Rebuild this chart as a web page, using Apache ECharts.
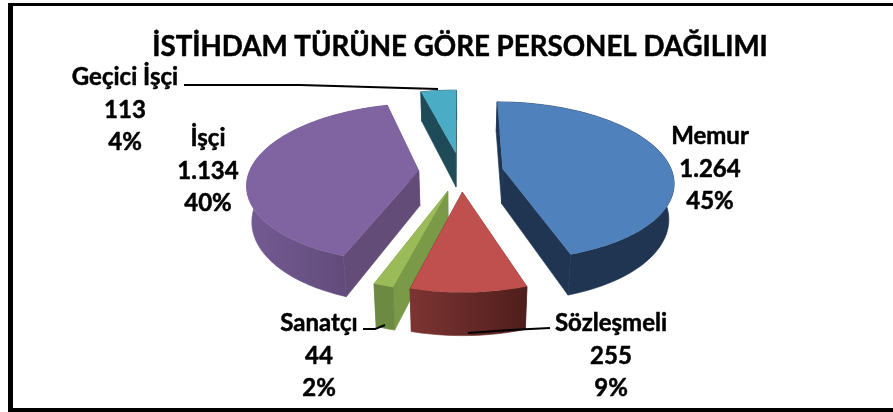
<!DOCTYPE html>
<html lang="tr">
<head>
    <meta http-equiv="Content-Type" content="text/html; charset=utf-8">
    <script type="text/javascript" src="https://cdn.jsdelivr.net/npm/echarts@6/dist/echarts.min.js"></script>
    <title>İstihdam türüne göre personel dağılımı</title>
    <style>
        html, body { margin: 0; padding: 0; background: #fff; }
        #chart { width: 893px; height: 412px; }
    </style>
</head>
<body>
<div id="chart"></div>
<script>
const titleText = 'İSTİHDAM TÜRÜNE GÖRE PERSONEL DAĞILIMI';
const names = ['Memur', 'Sözleşmeli', 'Sanatçı', 'İşçi', 'Geçici İşçi'];
const values = [1264, 255, 44, 1134, 113];
const valueTexts = ['1.264', '255', '44', '1.134', '113'];
const percentTexts = ['45%', '9%', '2%', '40%', '4%'];

const topColors = ['#4f81bd', '#c0504d', '#9bbb59', '#8064a2', '#4bacc6'];
const wallColors = ['#1f3552', '#7b3331', '#7a9a48', '#634c78', '#1f4a57'];
const outerColors = [['#1f3552', '#1f3552'], ['#7c3432', '#4f1e1c'], ['#6c8a42', '#6c8a42'], ['#735a92', '#5a4570'], ['#1f4a57', '#1f4a57']];

// label centres and leader lines, in page pixels
const labelPos = [[710, 169], [611, 356], [319, 356], [208, 171], [125, 110]];
const leaders = [null, [[468, 333], [510, 330], [550, 328]], [[363, 329], [375, 329], [385, 325]], null, [[184, 85], [300, 85], [438, 89]]];

// perspective pie, fitted to the picture
const cx = 461, cy = 171.8, rx = 169.5, ry = 78, persp = 0.153, explode = 0.25, depth = 35;

const total = values.reduce((a, b) => a + b, 0);

function project(x, y, low) {
    const f = 1 / (1 - persp * y);
    let sx = cx + rx * x * f;
    let sy = cy + ry * y * f;
    if (low) {
        sx = sx - (sx - cx) * 0.025;
        sy = sy + depth * f;
    }
    return [sx, sy];
}

function renderSlice(params, api) {
    const i = params.dataIndex;
    let before = 0;
    for (let k = 0; k < i; k++) before += values[k];
    const a0 = before / total * Math.PI * 2;
    const a1 = (before + api.value(0)) / total * Math.PI * 2;
    const mid = (a0 + a1) / 2;
    const ox = explode * Math.sin(mid), oy = -explode * Math.cos(mid);
    const order = Math.round(-Math.cos(mid) * 100);

    const arcTop = [], arcLow = [];
    const steps = Math.max(2, Math.ceil((a1 - a0) / 0.03));
    for (let s = 0; s <= steps; s++) {
        const a = a0 + (a1 - a0) * s / steps;
        arcTop.push(project(ox + Math.sin(a), oy - Math.cos(a), false));
        arcLow.push(project(ox + Math.sin(a), oy - Math.cos(a), true));
    }
    const apex = project(ox, oy, false), apexLow = project(ox, oy, true);
    const first = arcTop[0], firstLow = arcLow[0];
    const last = arcTop[steps], lastLow = arcLow[steps];

    const xs = arcLow.map(p => p[0]);
    const xMin = Math.min.apply(null, xs), xMax = Math.max.apply(null, xs);
    const outerFill = new echarts.graphic.LinearGradient(xMin, 0, xMax, 0, [
        { offset: 0, color: outerColors[i][0] },
        { offset: 1, color: outerColors[i][1] }
    ], true);

    const children = [
        { type: 'polygon', z2: order, shape: { points: [apex, last, lastLow, apexLow] }, style: { fill: wallColors[i], stroke: wallColors[i], lineWidth: 0.6 } },
        { type: 'polygon', z2: order, shape: { points: [apex, first, firstLow, apexLow] }, style: { fill: wallColors[i], stroke: wallColors[i], lineWidth: 0.6 } },
        { type: 'polygon', z2: order + 1, shape: { points: arcTop.concat(arcLow.slice().reverse()) }, style: { fill: outerFill, stroke: outerFill, lineWidth: 0.6 } },
        { type: 'polygon', z2: order + 2, shape: { points: [apex].concat(arcTop) }, style: { fill: topColors[i] } }
    ];
    if (leaders[i]) {
        children.push({ type: 'polyline', z2: 300, shape: { points: leaders[i] }, style: { fill: null, stroke: '#000', lineWidth: 2 } });
    }
    children.push({
        type: 'text', z2: 300, x: labelPos[i][0], y: labelPos[i][1],
        style: {
            text: names[i] + '\n' + valueTexts[i] + '\n' + percentTexts[i],
            font: 'bold 24px Lato', fill: '#000', stroke: '#000', lineWidth: 0.5,
            align: 'center', verticalAlign: 'middle', lineHeight: 32.5
        }
    });
    return { type: 'group', children: children };
}

let chart = echarts.init(document.getElementById('chart'), null, { renderer: 'canvas' });
chart.setOption({
    animation: false,
    title: {
        text: titleText, left: 455, top: 28, textAlign: 'center',
        textStyle: {
            fontFamily: 'Lato', fontWeight: 'bold', fontSize: 27.7, color: '#000',
            textBorderColor: '#000', textBorderWidth: 0.5
        }
    },
    graphic: [
        { type: 'rect', shape: { x: 8, y: 3, width: 885, height: 3 }, style: { fill: '#000' } },
        { type: 'rect', shape: { x: 8, y: 3, width: 5, height: 409 }, style: { fill: '#000' } },
        { type: 'rect', shape: { x: 8, y: 408, width: 885, height: 4 }, style: { fill: '#000' } }
    ],
    series: [{
        type: 'custom',
        coordinateSystem: 'none',
        renderItem: renderSlice,
        data: values.map(v => [v])
    }]
});
</script>
</body>
</html>
